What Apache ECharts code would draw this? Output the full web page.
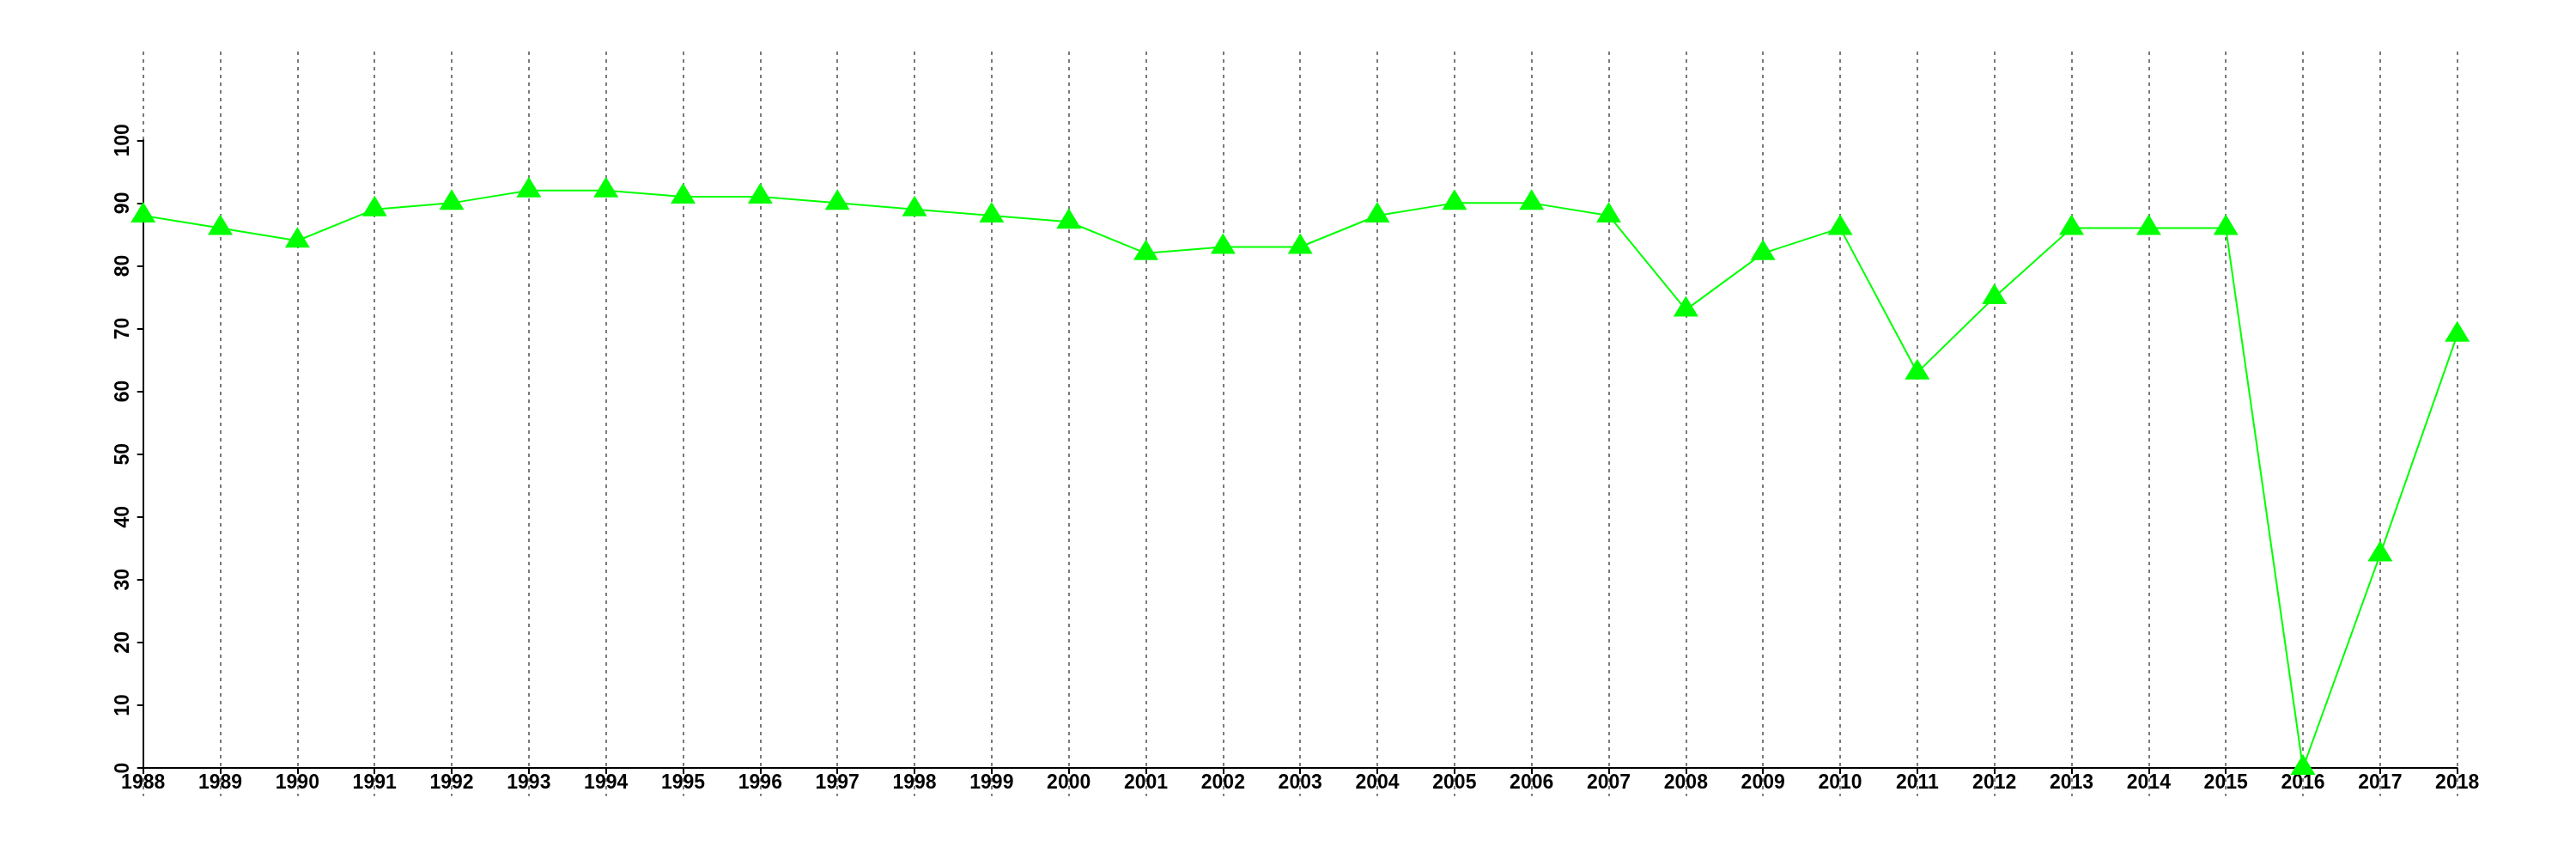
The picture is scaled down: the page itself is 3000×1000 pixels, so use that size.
<!DOCTYPE html>
<html>
<head>
<meta charset="utf-8">
<script src="https://cdn.jsdelivr.net/npm/echarts@6/dist/echarts.min.js"></script>
<style>
html,body{margin:0;padding:0;background:#fff;}
#main{width:3000px;height:1000px;}
</style>
</head>
<body>
<div id="main"></div>
<script>
const years = ['1988','1989','1990','1991','1992','1993','1994','1995','1996','1997','1998','1999','2000','2001','2002','2003','2004','2005','2006','2007','2008','2009','2010','2011','2012','2013','2014','2015','2016','2017','2018'];
const values = [88,86,84,89,90,92,92,91,91,90,89,88,87,82,83,83,88,90,90,88,73,82,86,63,75,86,86,86,0,34,69];
const yTicks = [0,10,20,30,40,50,60,70,80,90,100];

const FONT = 'Liberation Sans';
const chart = echarts.init(document.getElementById('main'), null, {renderer:'canvas'});
const option = {
  backgroundColor: '#ffffff',
  animation: false,
  grid: [
    {left: 166.7, right: 138.3, top: 60, bottom: 73.3, containLabel: false},
    {left: 166.7, right: 138.3, top: 163.3, bottom: 106, containLabel: false}
  ],
  xAxis: [
    {
      gridIndex: 0, type: 'category', data: years, boundaryGap: false,
      axisLine: {show: false}, axisTick: {show: false}, axisLabel: {show: false},
      splitLine: {show: true, interval: 0, lineStyle: {color: '#7a7a7a', width: 2, type: [4, 5]}}
    },
    {
      gridIndex: 1, type: 'category', data: years, boundaryGap: false,
      axisLine: {show: true, lineStyle: {color: '#000', width: 2}},
      axisTick: {show: true, interval: 0, length: 7, lineStyle: {color: '#000', width: 2}},
      axisLabel: {show: true, interval: 0, margin: 6, color: '#000', fontFamily: FONT, fontWeight: 'bold', fontSize: 23},
      splitLine: {show: false}
    }
  ],
  yAxis: [
    {
      gridIndex: 0, type: 'value', min: 0, max: 100, show: false,
      splitLine: {show: false}
    },
    {
      gridIndex: 1, type: 'value', min: yTicks[0], max: yTicks[yTicks.length-1], interval: 10,
      axisLine: {show: true, lineStyle: {color: '#000', width: 2}},
      axisTick: {show: true, length: 7, lineStyle: {color: '#000', width: 2}},
      axisLabel: {show: true, rotate: 90, margin: 12, color: '#000', fontFamily: FONT, fontWeight: 'bold', fontSize: 23},
      splitLine: {show: false}
    }
  ],
  series: [
    {
      type: 'line', xAxisIndex: 1, yAxisIndex: 1, data: values,
      clip: false,
      lineStyle: {color: '#00ff00', width: 2},
      itemStyle: {color: '#00ff00'},
      symbol: 'triangle', symbolSize: [29, 24], symbolOffset: [0, -4],
      showAllSymbol: true
    }
  ]
};
chart.setOption(option);
</script>
</body>
</html>
